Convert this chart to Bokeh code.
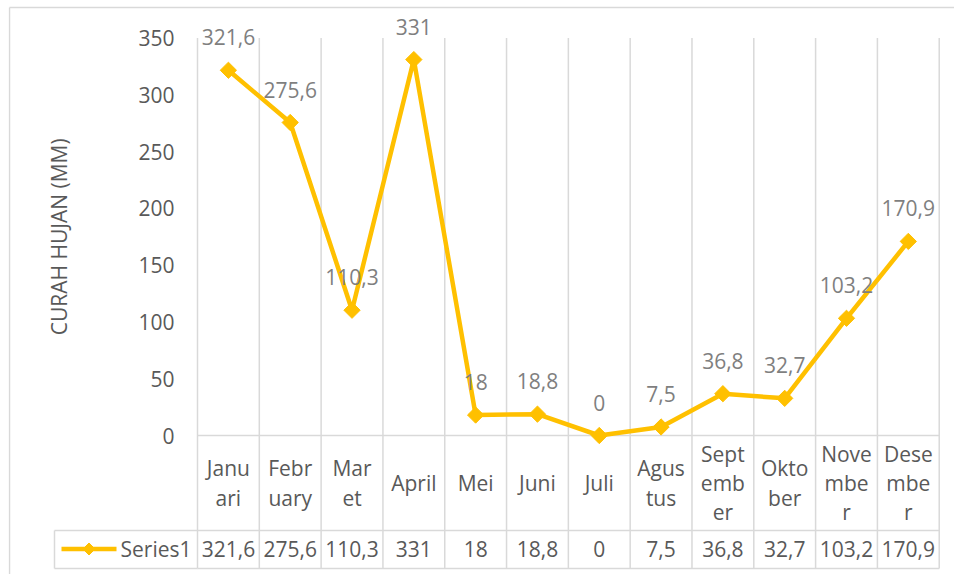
from bokeh.plotting import figure
from bokeh.models import ColumnDataSource, Range1d, FixedTicker
from bokeh.core.properties import value
from bokeh.embed import file_html
from bokeh.resources import INLINE

# ---- data ----
months = ["Januari", "February", "Maret", "April", "Mei", "Juni", "Juli",
          "Agustus", "September", "Oktober", "November", "Desember"]
month_labels = ["Janu\nari", "Febr\nuary", "Mar\net", "April", "Mei", "Juni", "Juli",
                "Agus\ntus", "Sept\nemb\ner", "Okto\nber", "Nove\nmbe\nr", "Dese\nmbe\nr"]
rainfall = [321.6, 275.6, 110.3, 331, 18, 18.8, 0, 7.5, 36.8, 32.7, 103.2, 170.9]
y_ticks = [0, 50, 100, 150, 200, 250, 300, 350]
series_name = "Series1"
y_title = "CURAH HUJAN (MM)"


def fmt(v):
    return ("%g" % v).replace(".", ",")


# ---- layout constants (pixel geometry -> data units) ----
FONT = value("Open Sans")
GOLD = "#FFC000"
GRID = "#d9d9d9"
TXT = "#595959"
LBL = "#7f7f7f"
n = len(months)

X0_PX, COL_PX = 197.0, 61.81      # left of first column, column width
Y0_PX, UNIT_PX = 435.0, 1.1357    # pixel of value 0, pixels per mm


def dx(px):
    return (px - X0_PX) / COL_PX


def dy(py):
    return (Y0_PX - py) / UNIT_PX


FRAME_L, FRAME_R, FRAME_T, FRAME_B = 8, 954, 5, 574
CAT_ROW_MID = dy(482.5)
ROW_LINE_1 = dy(530)
TABLE_MID = dy(548.5)
ROW_LINE_2 = dy(568)
Y_TOP = 350

xs = [i + 0.5 for i in range(n)]
src = ColumnDataSource(dict(x=xs, y=rainfall, lab=[fmt(v) for v in rainfall],
                            cat=month_labels,
                            cy=[CAT_ROW_MID] * n, ty=[TABLE_MID] * n))

p = figure(width=954, height=574, output_backend="svg", toolbar_location=None,
           x_range=Range1d(dx(FRAME_L), dx(FRAME_R)),
           y_range=Range1d(dy(FRAME_B), dy(FRAME_T)),
           min_border_left=FRAME_L, min_border_right=954 - FRAME_R,
           min_border_top=FRAME_T, min_border_bottom=574 - FRAME_B)
p.outline_line_color = None
p.grid.visible = False
p.xaxis.visible = False

ax = p.yaxis[0]
ax.ticker = FixedTicker(ticks=y_ticks)
ax.axis_line_color = None
ax.major_tick_line_color = None
ax.minor_tick_line_color = None
ax.major_tick_out = 0
ax.major_tick_in = 0
ax.major_label_standoff = -(174 - FRAME_L)
ax.major_label_text_font = "Open Sans"
ax.major_label_text_font_size = "21px"
ax.major_label_text_color = TXT

# axis title (rotated, left of the tick labels)
p.text(x=[dx(58)], y=[Y_TOP / 2], text=[y_title], angle=1.5707963, text_font=FONT,
       text_font_size="21px", text_color=TXT, text_align="center", text_baseline="middle")

# outer chart border (left and top edges visible)
p.segment(x0=[dx(9), dx(9)], x1=[dx(9), dx(954)], y0=[dy(574), dy(7)], y1=[dy(7), dy(7)],
          line_color=GRID, line_width=1.5)

# grid / table lines
bx = list(range(n + 1))
p.segment(x0=bx, x1=bx, y0=[ROW_LINE_2] * (n + 1), y1=[Y_TOP] * (n + 1),
          line_color=GRID, line_width=1.5)
for yy in (0, ROW_LINE_1, ROW_LINE_2):
    p.segment(x0=[0], x1=[n], y0=[yy], y1=[yy], line_color=GRID, line_width=1.5)

# legend-key cell of the data table
p.segment(x0=[dx(54), dx(54), dx(54)], x1=[0, 0, dx(54)],
          y0=[ROW_LINE_1, ROW_LINE_2, ROW_LINE_1], y1=[ROW_LINE_1, ROW_LINE_2, ROW_LINE_2],
          line_color=GRID, line_width=1.5)
p.line(x=[dx(61), dx(116)], y=[TABLE_MID, TABLE_MID], line_color=GOLD, line_width=4.5)
p.scatter(x=[dx(88.5)], y=[TABLE_MID], marker="square", angle=0.785398, size=8.5,
          fill_color=GOLD, line_color=GOLD)
p.text(x=[dx(120)], y=[TABLE_MID], text=[series_name], text_font=FONT, text_font_size="21px",
       text_color=TXT, text_align="left", text_baseline="middle")

# series
p.line("x", "y", source=src, line_color=GOLD, line_width=4.5, line_join="round")
p.scatter("x", "y", source=src, marker="square", angle=0.785398, size=11.5,
          fill_color=GOLD, line_color=GOLD)

# data labels
p.text("x", "y", text="lab", source=src, text_font=FONT, text_font_size="21px",
       text_color=LBL, text_align="center", text_baseline="middle", y_offset=-33)

# category labels
p.text("x", "cy", text="cat", source=src, text_font=FONT, text_font_size="21px",
       text_color=TXT, text_align="center", text_baseline="middle", text_line_height=1.04)

# table values
p.text("x", "ty", text="lab", source=src, text_font=FONT, text_font_size="21px",
       text_color=TXT, text_align="center", text_baseline="middle")

open("out.html", "w").write(file_html(p, INLINE))
